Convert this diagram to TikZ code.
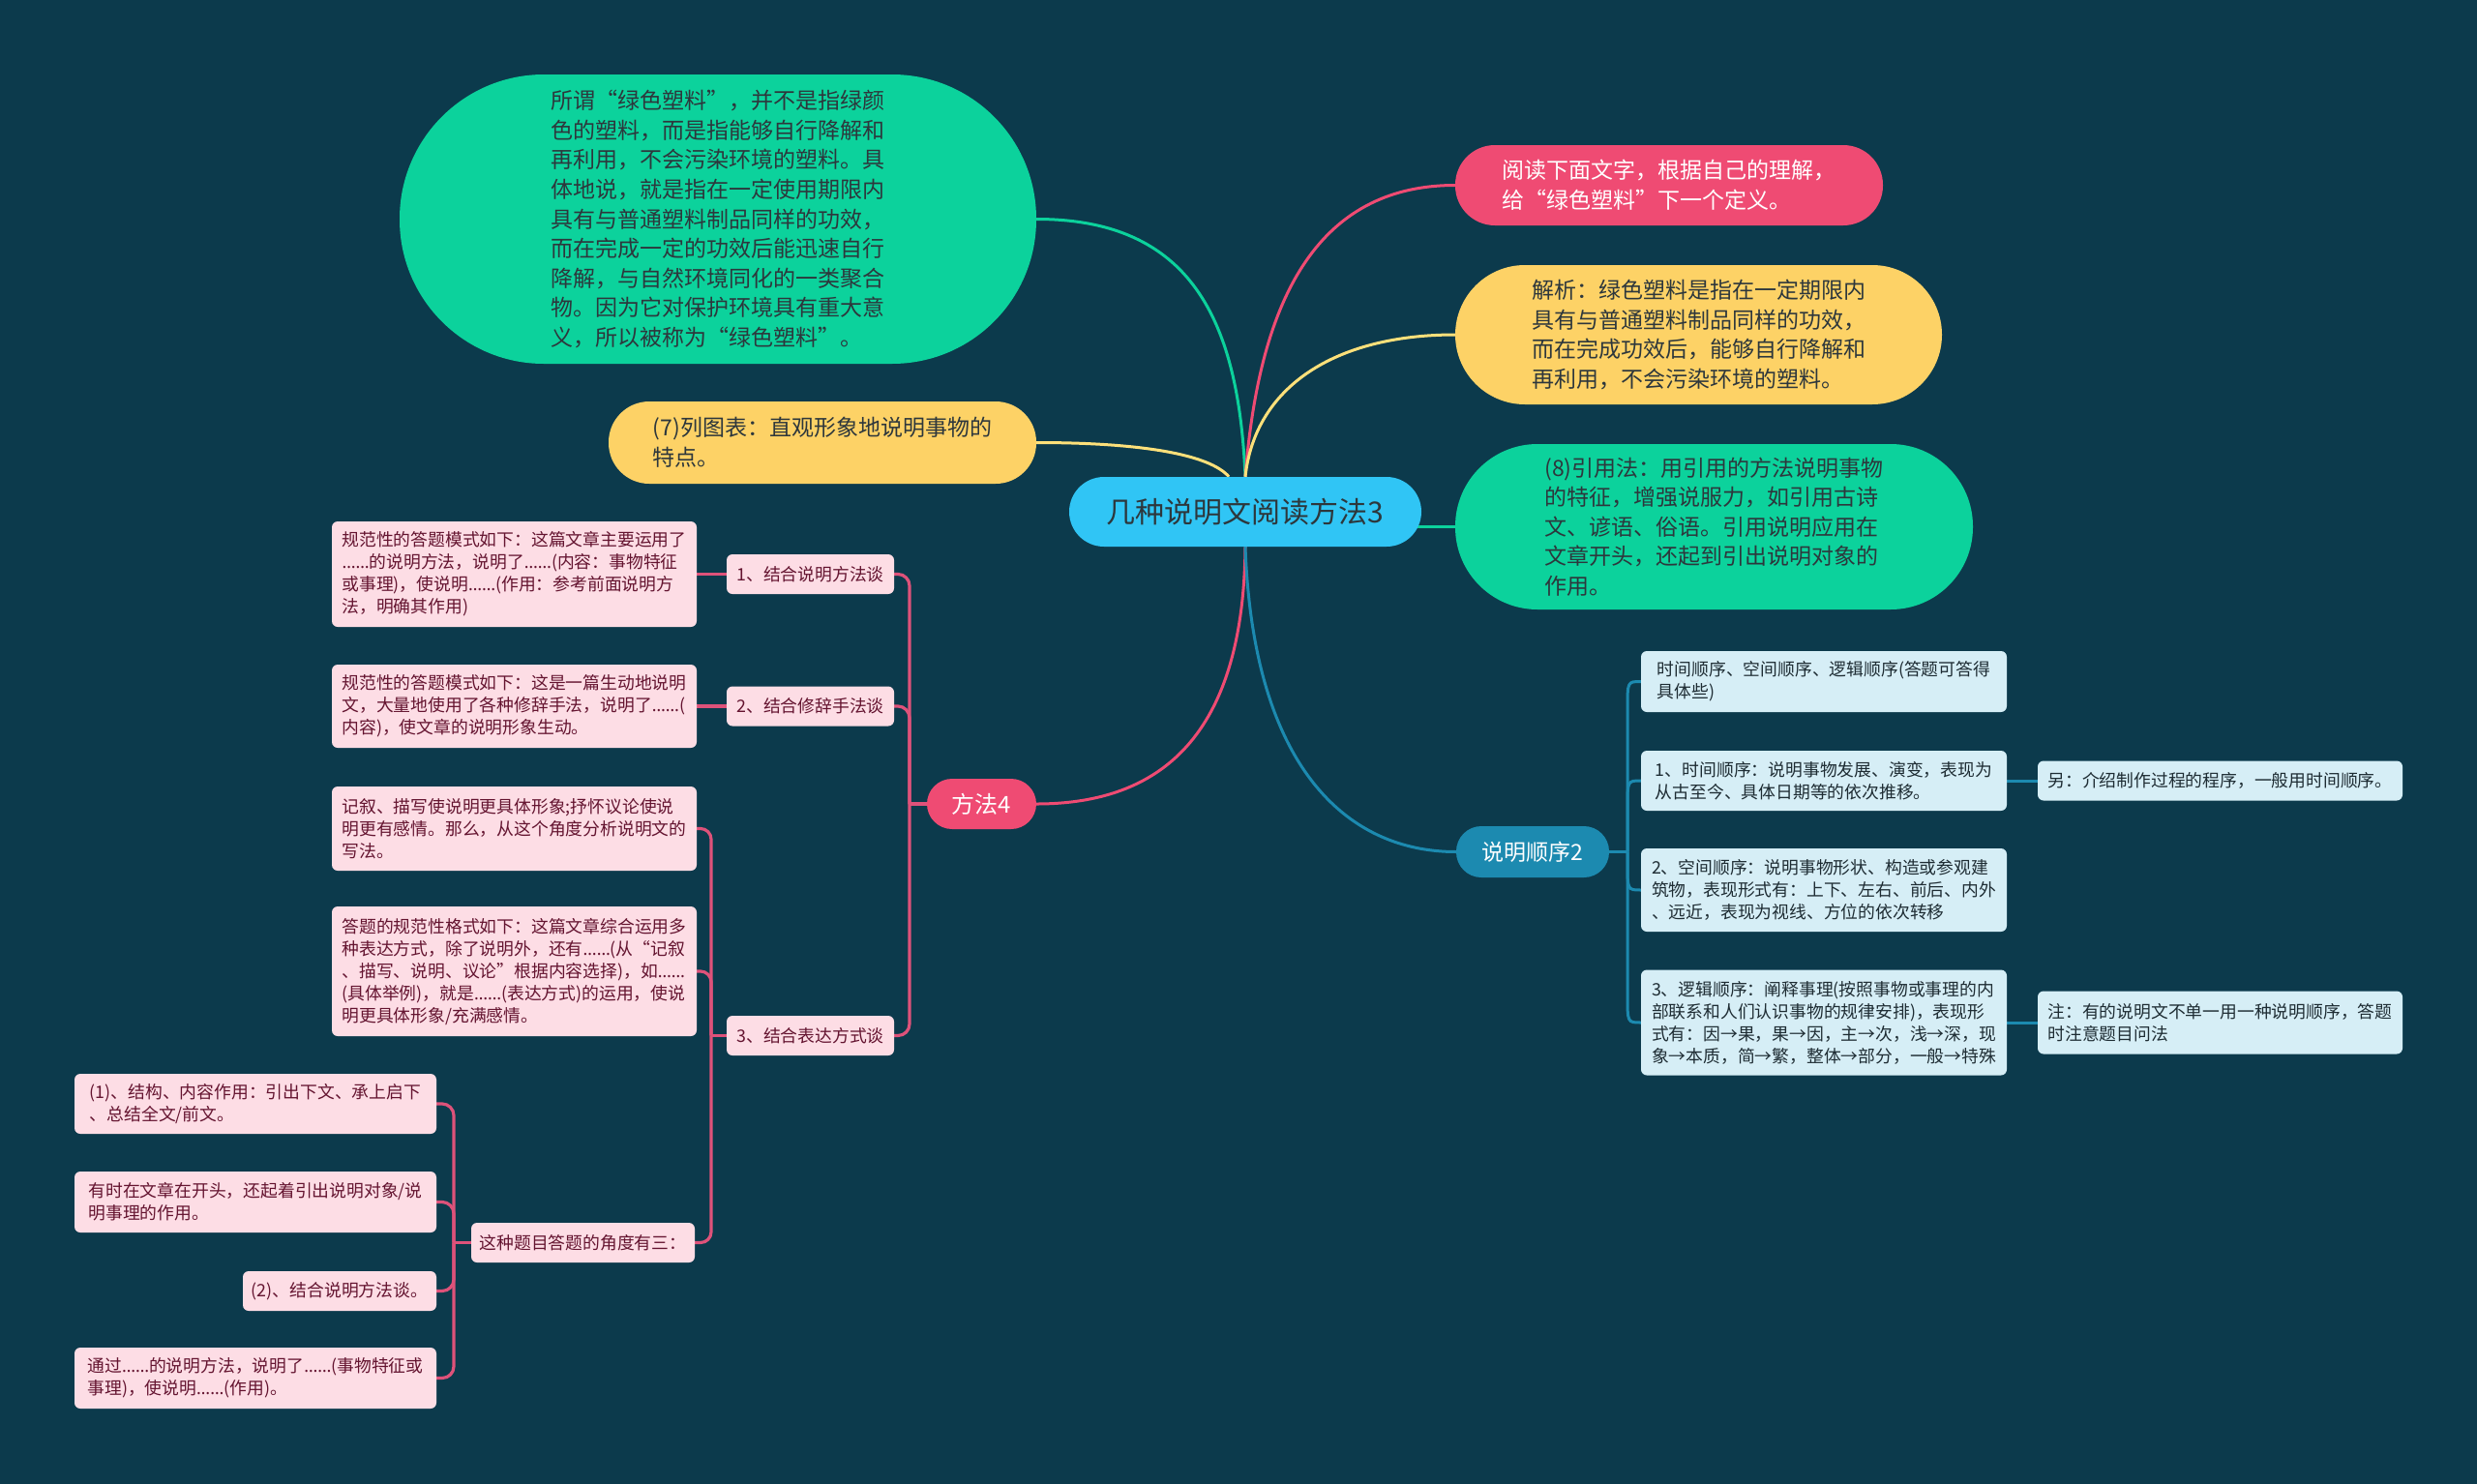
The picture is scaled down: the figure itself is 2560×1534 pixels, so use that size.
\documentclass[tikz,border=0pt]{standalone}
\usepackage{fontspec}
\setmainfont{Noto Sans CJK SC}
\newfontfamily\latinf{Noto Sans}
\newcommand{\dotsx}{{\latinf ……}}
\usetikzlibrary{calc}
\pgfdeclarelayer{bg}
\pgfsetlayers{bg,main}
\definecolor{bgc}{RGB}{12,58,76}
\definecolor{cblue}{RGB}{48,197,245}
\definecolor{grn}{RGB}{12,210,156}
\definecolor{ylw}{RGB}{253,210,102}
\definecolor{ylwline}{RGB}{253,224,122}
\definecolor{pnk}{RGB}{239,75,115}
\definecolor{pnkline}{RGB}{222,82,122}
\definecolor{tealb}{RGB}{28,138,176}
\definecolor{lpink}{RGB}{253,221,229}
\definecolor{lblue}{RGB}{214,238,246}
\definecolor{maroon}{RGB}{100,20,48}
\definecolor{dtext}{RGB}{30,44,51}
\definecolor{darkt}{RGB}{45,55,60}
\begin{document}
\begin{tikzpicture}[x=1pt,y=-1pt,
  base/.style={inner sep=0pt, align=left, anchor=center},
  pill/.style={base, font=\fontsize{23}{30.6}\selectfont},
  sbox/.style={base, rounded corners=6pt, font=\fontsize{17.8}{23}\selectfont},
  pbox/.style={sbox, fill=lpink, text=maroon},
  bbox/.style={sbox, fill=lblue, text=dtext},
  mainline/.style={line width=3pt},
  pline/.style={draw=pnkline, line width=3.2pt},
  bline/.style={draw=tealb, line width=3pt},
]
\useasboundingbox (0,0) rectangle (2560,1534);

% central node
\node[base, fill=cblue, text=darkt, font=\fontsize{30}{36}\selectfont,
  minimum width=364pt, minimum height=72pt, rounded corners=36pt] (c) at (1287,529) {几种说明文阅读方法3};

% big pills
\node[pill, fill=grn, text=darkt, minimum width=658pt, minimum height=299pt, rounded corners=149pt] (gTL) at (742,226.5)
 {所谓“绿色塑料”，并不是指绿颜\\色的塑料，而是指能够自行降解和\\再利用，不会污染环境的塑料。具\\体地说，就是指在一定使用期限内\\具有与普通塑料制品同样的功效，\\而在完成一定的功效后能迅速自行\\降解，与自然环境同化的一类聚合\\物。因为它对保护环境具有重大意\\义，所以被称为“绿色塑料”。};
\node[pill, fill=ylw, text=darkt, minimum width=442pt, minimum height=85pt, rounded corners=42pt] (y7) at (850,457.5)
 {(7)列图表：直观形象地说明事物的\\特点。};
\node[pill, fill=pnk, text=white, minimum width=442pt, minimum height=83pt, rounded corners=41pt] (pTR) at (1725,191.5)
 {阅读下面文字，根据自己的理解，\\给“绿色塑料”下一个定义。};
\node[pill, fill=ylw, text=darkt, minimum width=503pt, minimum height=144pt, rounded corners=72pt] (yR) at (1755.5,346)
 {解析：绿色塑料是指在一定期限内\\具有与普通塑料制品同样的功效，\\而在完成功效后，能够自行降解和\\再利用，不会污染环境的塑料。};
\node[pill, fill=grn, text=darkt, minimum width=535pt, minimum height=171pt, rounded corners=85pt] (gR) at (1771.5,544.5)
 {(8)引用法：用引用的方法说明事物\\的特征，增强说服力，如引用古诗\\文、谚语、俗语。引用说明应用在\\文章开头，还起到引出说明对象的\\作用。};

% branch heads
\node[base, fill=pnk, text=white, font=\fontsize{24}{28}\selectfont,
  minimum width=113pt, minimum height=52pt, rounded corners=26pt] (m4) at (1014.5,831) {方法4};
\node[base, fill=tealb, text=white, font=\fontsize{23}{28}\selectfont,
  minimum width=158pt, minimum height=53pt, rounded corners=26pt] (sb) at (1584,880.5) {说明顺序2};

% left pink boxes
\node[pbox, minimum width=173pt, minimum height=41pt] (S1) at (837.5,593.5) {1、结合说明方法谈};
\node[pbox, minimum width=173pt, minimum height=41pt] (S2) at (837.5,730) {2、结合修辞手法谈};
\node[pbox, minimum width=173pt, minimum height=41pt] (S3) at (837.5,1070.5) {3、结合表达方式谈};
\node[pbox, minimum width=377pt, minimum height=109pt] (A1) at (531.5,593.5)
 {规范性的答题模式如下：这篇文章主要运用了\\\dotsx 的说明方法，说明了\dotsx(内容：事物特征\\或事理)，使说明\dotsx(作用：参考前面说明方\\法，明确其作用)};
\node[pbox, minimum width=377pt, minimum height=86pt] (A2) at (531.5,730)
 {规范性的答题模式如下：这是一篇生动地说明\\文，大量地使用了各种修辞手法，说明了\dotsx(\\内容)，使文章的说明形象生动。};
\node[pbox, minimum width=377pt, minimum height=87pt] (A3a) at (531.5,856.5)
 {记叙、描写使说明更具体形象;抒怀议论使说\\明更有感情。那么，从这个角度分析说明文的\\写法。};
\node[pbox, minimum width=377pt, minimum height=134pt] (A3b) at (531.5,1004)
 {答题的规范性格式如下：这篇文章综合运用多\\种表达方式，除了说明外，还有\dotsx(从“记叙\\、描写、说明、议论”根据内容选择)，如\dotsx\\(具体举例)，就是\dotsx(表达方式)的运用，使说\\明更具体形象/充满感情。};
\node[pbox, minimum width=231pt, minimum height=41pt] (S4) at (602.5,1284.5) {这种题目答题的角度有三：};
\node[pbox, minimum width=374pt, minimum height=62pt] (B1) at (264,1141)
 {(1)、结构、内容作用：引出下文、承上启下\\、总结全文/前文。};
\node[pbox, minimum width=374pt, minimum height=63pt] (B2) at (264,1242.5)
 {有时在文章在开头，还起着引出说明对象/说\\明事理的作用。};
\node[pbox, minimum width=200pt, minimum height=41pt] (B3) at (351,1334.5) {(2)、结合说明方法谈。};
\node[pbox, minimum width=374pt, minimum height=63pt] (B4) at (264,1424.5)
 {通过\dotsx 的说明方法，说明了\dotsx(事物特征或\\事理)，使说明\dotsx(作用)。};

% right blue boxes
\node[bbox, minimum width=378pt, minimum height=63pt] (R1) at (1885,704.5)
 {时间顺序、空间顺序、逻辑顺序(答题可答得\\具体些)};
\node[bbox, minimum width=378pt, minimum height=62pt] (R2) at (1885,807)
 {1、时间顺序：说明事物发展、演变，表现为\\从古至今、具体日期等的依次推移。};
\node[bbox, minimum width=377pt, minimum height=41pt] (R2n) at (2294.5,807)
 {另：介绍制作过程的程序，一般用时间顺序。};
\node[bbox, minimum width=378pt, minimum height=86pt] (R3) at (1885,920)
 {2、空间顺序：说明事物形状、构造或参观建\\筑物，表现形式有：上下、左右、前后、内外\\、远近，表现为视线、方位的依次转移};
\node[bbox, minimum width=378pt, minimum height=109pt] (R4) at (1885,1057)
 {3、逻辑顺序：阐释事理(按照事物或事理的内\\部联系和人们认识事物的规律安排)，表现形\\式有：因→果，果→因，主→次，浅→深，现\\象→本质，简→繁，整体→部分，一般→特殊};
\node[bbox, minimum width=377pt, minimum height=65pt] (R4n) at (2294.5,1057)
 {注：有的说明文不单一用一种说明顺序，答题\\时注意题目问法};

% junctions
\coordinate (j4) at (940,831);
\coordinate (j3) at (735,1070.5);
\coordinate (j5) at (469,1284.5);
\coordinate (j2) at (1682,880.5);

\begin{pgfonlayer}{bg}
\fill[bgc] (0,0) rectangle (2560,1534);
% main curves
\draw[mainline, draw=grn] (c.north) .. controls +(-7,-163) and +(159,0) .. (gTL.east);
\draw[mainline, draw=pnk] (c.north) .. controls +(13,-163) and +(-154,0) .. (pTR.west);
\draw[mainline, draw=ylwline] (c.north) .. controls +(10,-93) and +(-124,0) .. (yR.west);
\draw[mainline, draw=ylwline] (y7.east) .. controls +(109,0) and +(-20,-23) .. (c.115);
\draw[mainline, draw=grn] (gR.west) -- (c.center |- gR.west);
\draw[mainline, draw=pnk] (c.south) .. controls +(-2,195) and +(129,0) .. (m4.east);
\draw[mainline, draw=tealb] (c.south) .. controls +(8,225) and +(-115,0) .. (sb.west);
% method 4 group
\draw[pline] (m4.west) -- (j4);
\draw[pline, rounded corners=12pt] (j4) |- (S1.east);
\draw[pline, rounded corners=12pt] (j4) |- (S2.east);
\draw[pline, rounded corners=12pt] (j4) |- (S3.east);
\draw[pline] (S1.west) -- (A1.east);
\draw[pline] (S2.west) -- (A2.east);
\draw[pline] (S3.west) -- (j3);
\draw[pline, rounded corners=11pt] (j3) |- (A3a.east);
\draw[pline, rounded corners=11pt] (j3) |- (A3b.east);
\draw[pline, rounded corners=11pt] (j3) |- (S4.east);
\draw[pline] (S4.west) -- (j5);
\draw[pline, rounded corners=12pt] (j5) |- (B1.east);
\draw[pline, rounded corners=12pt] (j5) |- (B2.east);
\draw[pline, rounded corners=12pt] (j5) |- (B3.east);
\draw[pline, rounded corners=12pt] (j5) |- (B4.east);
% order group
\draw[bline] (sb.east) -- (j2);
\draw[bline] (j2) -- ($(j2 |- R1.west)+(0,28)$) .. controls (j2 |- R1.west) .. (R1.west);
\draw[bline] (j2) -- ($(j2 |- R2.west)+(0,28)$) .. controls (j2 |- R2.west) .. (R2.west);
\draw[bline] (j2) -- ($(j2 |- R3.west)+(0,-28)$) .. controls (j2 |- R3.west) .. (R3.west);
\draw[bline] (j2) -- ($(j2 |- R4.west)+(0,-28)$) .. controls (j2 |- R4.west) .. (R4.west);
\draw[bline] (R2.east) -- (R2n.west);
\draw[bline] (R4.east) -- (R4n.west);
\end{pgfonlayer}
\end{tikzpicture}
\end{document}
